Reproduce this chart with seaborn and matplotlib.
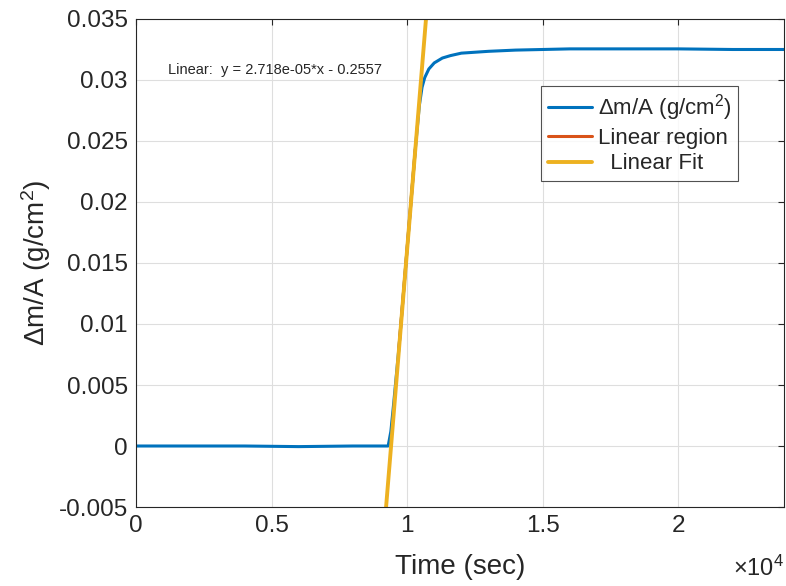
import numpy as np
import pandas as pd
import matplotlib
matplotlib.use("Agg")
import matplotlib.pyplot as plt
import seaborn as sns

# Mass change per unit area over time
time_s = [0, 2000, 4000, 6000, 8000, 9000, 9300, 9400, 9500, 9700, 9900,
          10100, 10300, 10450, 10550, 10650, 10800, 11000, 11300, 11600,
          12000, 13000, 14000, 15000, 16000, 18000, 20000, 22000, 23900]
dm_per_area = [0.0, 0.0, 0.0, -0.00005, 0.0, 0.0, 0.0, 0.0012, 0.0034, 0.0081,
               0.0135, 0.0189, 0.0243, 0.0279, 0.0294, 0.0302, 0.0309, 0.0314,
               0.0318, 0.0320, 0.0322, 0.03235, 0.03245, 0.0325, 0.03255,
               0.03255, 0.03255, 0.0325, 0.0325]

# Window used for the linear fit
region_start, region_end = 9600, 10400

# Fitted line coefficients
fit_slope = 2.718e-05
fit_intercept = -0.2557
fit_x_range = [9100, 10800]

x_ticks = [0, 5000, 10000, 15000, 20000]
x_tick_labels = ["0", "0.5", "1", "1.5", "2"]
y_ticks = [-0.005, 0.0, 0.005, 0.01, 0.015, 0.02, 0.025, 0.03, 0.035]
y_tick_labels = ["-0.005", "0", "0.005", "0.01", "0.015", "0.02", "0.025", "0.03", "0.035"]

sns.set_theme(style="white")
plt.rcParams["font.family"] = ["Liberation Sans", "DejaVu Sans"]
plt.rcParams["mathtext.fontset"] = "custom"
plt.rcParams["mathtext.rm"] = "Liberation Sans"
plt.rcParams["mathtext.it"] = "Liberation Sans:italic"

df = pd.DataFrame({"t": time_s, "m": dm_per_area})
region = df[(df["t"] >= region_start) & (df["t"] <= region_end)]
fit_df = pd.DataFrame({"t": fit_x_range})
fit_df["m"] = fit_slope * fit_df["t"] + fit_intercept

fig = plt.figure(figsize=(7.86, 5.86), dpi=100)
ax = fig.add_axes([0.173, 0.1348, 0.8245, 0.8328])

blue, orange, yellow = "#0072BD", "#D95319", "#EDB120"
sns.lineplot(data=df, x="t", y="m", ax=ax, color=blue, lw=2.2,
             estimator=None, sort=False, label="$\\Delta$m/A (g/cm$^2$)")
sns.lineplot(data=region, x="t", y="m", ax=ax, color=orange, lw=2.2,
             estimator=None, sort=False, label="Linear region")
sns.lineplot(data=fit_df, x="t", y="m", ax=ax, color=yellow, lw=2.8,
             estimator=None, sort=False, label="  Linear Fit")

ax.set_xlim(0, 23900)
ax.set_ylim(-0.005, 0.035)
ax.set_xticks(x_ticks)
ax.set_xticklabels(x_tick_labels)
ax.set_yticks(y_ticks)
ax.set_yticklabels(y_tick_labels)
ax.grid(True, color="#dedede", lw=0.8)
ax.tick_params(direction="in", length=4, width=0.8, colors="#262626",
               labelsize=17.5, top=True, right=True, pad=6)
for s in ax.spines.values():
    s.set_color("#262626")
    s.set_linewidth(0.8)

ax.set_xlabel("Time (sec)", fontsize=20, color="#262626", labelpad=12)
ax.set_ylabel("$\\Delta$m/A (g/cm$^2$)", fontsize=20, color="#262626", labelpad=4)

fig.text(0.997, 0.008, "$\\times$10$^4$", ha="right", va="bottom",
         fontsize=17, color="#262626")

ax.text(1180, 0.0308, f"Linear:  y = {fit_slope:.3e}*x - {abs(fit_intercept):.4f}",
        fontsize=10.5, color="#262626", ha="left", va="center")

leg = ax.legend(loc="upper right", bbox_to_anchor=(0.929, 0.863), fontsize=16,
                frameon=True, fancybox=False, edgecolor="#262626",
                handlelength=2.0, handletextpad=0.25, borderpad=0.3,
                labelspacing=0.2, borderaxespad=0)
leg.get_frame().set_linewidth(0.8)
for t in leg.get_texts():
    t.set_color("#262626")

fig.savefig("out.png", dpi=100)
